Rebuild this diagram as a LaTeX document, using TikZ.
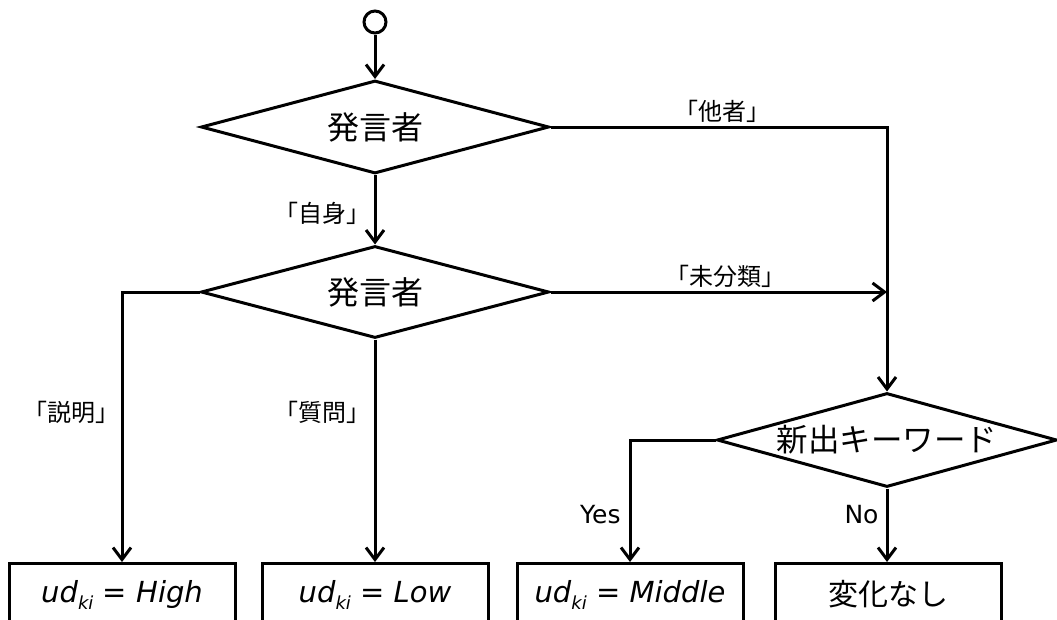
\documentclass[tikz,border=0pt]{standalone}
\usepackage{fontspec}
\setmainfont{DejaVu Sans}
\newfontfamily\jp{Noto Sans CJK JP}
\usetikzlibrary{shapes.geometric,arrows.meta}
\newcommand\udki{\textit{ud}\raisebox{-7pt}{\fontsize{18}{18}\selectfont\itshape ki}}
\begin{document}
\begin{tikzpicture}[x=1pt,y=-1pt, line width=3pt,
  arr/.style={-{Straight Barb[length=12pt,width=18pt]}},
  dia/.style={draw, diamond, inner sep=0pt, aspect=3.7, font=\jp\fontsize{32}{32}\selectfont},
  box/.style={draw, rectangle, minimum width=226pt, minimum height=62pt, inner sep=0pt, font=\fontsize{29}{29}\selectfont, anchor=north},
  lab/.style={font=\jp\fontsize{24}{24}\selectfont, inner sep=0pt},
  en/.style={font=\fontsize{25}{25}\selectfont, inner sep=0pt}]
\useasboundingbox (0,0) rectangle (1057,619);
\clip (0,0) rectangle (1057,619);
\node[draw, circle, minimum size=22pt, inner sep=0pt] (st) at (375,22) {};
\node[dia, minimum width=348pt, minimum height=93pt] (d1) at (375,127) {発言者};
\node[dia, minimum width=348pt, minimum height=92pt] (d2) at (375,292) {発言者};
\node[dia, minimum width=340pt, minimum height=94pt, font=\jp\fontsize{31.5}{31.5}\selectfont] (d3) at (887,440) {新出キーワード};
\node[box] (b1) at (122,562) {\udki{} = \textit{High}};
\node[box] (b2) at (375,562) {\udki{} = \textit{Low}};
\node[box] (b3) at (630,562) {\udki{} = \textit{Middle}};
\node[box, font=\jp\fontsize{30}{30}\selectfont] (b4) at (888,562) {変化なし};
\coordinate (j) at (d3.north |- d2.east);
\draw[arr] (st) -- (d1.north);
\draw[arr] (d1.east) -| (d3.north);
\draw[arr] (d1.south) -- (d2.north);
\draw[arr] (d2.east) -- (j);
\draw[arr] (d2.west) -| (b1.north);
\draw[arr] (d2.south) -- (b2.north);
\draw[arr] (d3.west) -| (b3.north);
\draw[arr] (d3.south) -- (d3.south |- b4.north);
\node[lab] (l1) at (722,111) {「他者」};
\node[lab] (l2) at (725,276) {「未分類」};
\node[lab, anchor=east] (l3) at (372,213) {「自身」};
\node[lab, anchor=east] (l4) at (121,412) {「説明」};
\node[lab, anchor=east] (l5) at (372,412) {「質問」};
\node[en, anchor=east] (l6) at (622,515) {Yes};
\node[en, anchor=east] (l7) at (880,515) {No};
\end{tikzpicture}
\end{document}
